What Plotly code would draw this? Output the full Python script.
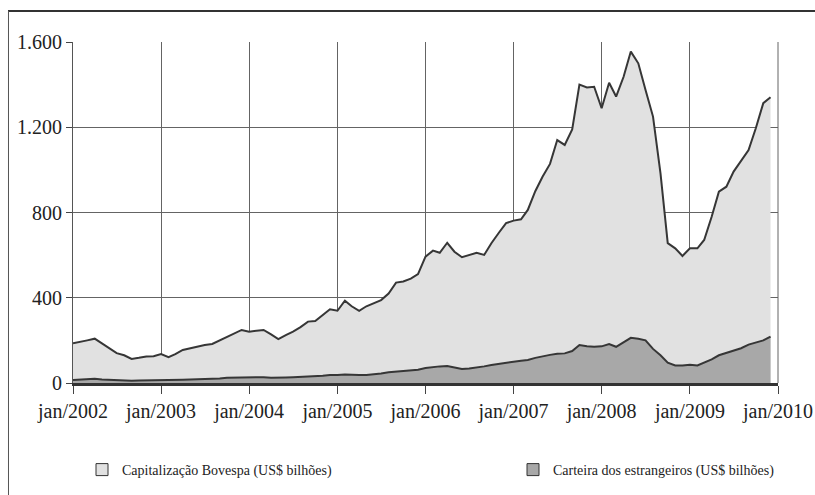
import plotly.graph_objects as go
import pandas as pd

months = pd.date_range("2002-01-01", periods=96, freq="MS")

bovespa = [186, 195, 200, 208, 185, 163, 140, 130, 113, 118, 124, 126,
           136, 121, 135, 155, 163, 172, 178, 183, 200, 215, 232, 249,
           241, 245, 249, 228, 206, 225, 241, 262, 288, 291, 318, 346,
           339, 386, 360, 339, 360, 375, 389, 420, 471, 476, 490, 511,
           593, 621, 611, 658, 616, 590, 600, 611, 601, 656, 705, 750,
           762, 768, 812, 900, 968, 1028, 1140, 1117, 1190, 1400, 1387, 1390,
           1289, 1409, 1344, 1437, 1555, 1500, 1375, 1250, 984, 656, 632, 596,
           632, 632, 671, 780, 898, 921, 992, 1045, 1093, 1195, 1313, 1341]

estrangeiros = [14, 15, 16, 20, 17, 15, 13, 12, 11, 12, 12, 13,
                14, 13, 14, 15, 16, 17, 18, 19, 21, 25, 26, 27,
                26, 27, 27, 25, 24, 26, 27, 28, 29, 30, 34, 38,
                37, 40, 38, 37, 38, 40, 45, 50, 53, 55, 58, 62,
                70, 75, 78, 80, 72, 66, 68, 72, 78, 84, 90, 96,
                100, 104, 108, 118, 126, 132, 137, 139, 150, 178, 172, 170,
                172, 183, 170, 190, 212, 208, 200, 160, 130, 95, 82, 82,
                86, 82, 95, 111, 130, 140, 150, 163, 180, 190, 200, 218]

series_names = ["Capitalização Bovespa (US$ bilhões)",
                "Carteira dos estrangeiros (US$ bilhões)"]

x_tick_dates = ["2002-01-01", "2003-01-01", "2004-01-01", "2005-01-01", "2006-01-01",
                "2007-01-01", "2008-01-01", "2009-01-01", "2010-01-01"]
x_tick_labels = ["jan/2002", "jan/2003", "jan/2004", "jan/2005", "jan/2006",
                 "jan/2007", "jan/2008", "jan/2009", "jan/2010"]
y_tick_vals = [0, 400, 800, 1200, 1600]
y_tick_labels = ["0", "400", "800", "1.200", "1.600"]

FONT = "Liberation Serif, Times New Roman, Times, serif"
LINE = "#363636"
GRID = "#646464"
FILLS = ["#e1e1e1", "#a8a8a8"]

W, H = 815, 495

fig = go.Figure()
for i, (vals, name) in enumerate(zip([bovespa, estrangeiros], series_names)):
    fig.add_trace(go.Scatter(
        x=months, y=vals, name=name, legendgroup=f"g{i}", showlegend=False,
        mode="lines", fill="tozeroy", fillcolor=FILLS[i],
        line=dict(color=LINE, width=2)))
    # legend entry with square swatch
    fig.add_trace(go.Scatter(
        x=[None], y=[None], name=name, legendgroup=f"g{i}",
        mode="markers", marker=dict(symbol="square", size=12, color=FILLS[i],
                                    line=dict(color="#333333", width=1)),
        legend="legend" if i == 0 else "legend2"))

fig.update_layout(
    width=W, height=H,
    margin=dict(l=73, r=37, t=42, b=112, autoexpand=False),
    paper_bgcolor="white", plot_bgcolor="white",
    font=dict(family=FONT, size=20, color="#222222"),
    showlegend=True,
    legend=dict(xref="container", yref="container", x=82 / W, y=1 - 470 / H,
                xanchor="left", yanchor="middle",
                font=dict(family=FONT, size=14, color="#222222"),
                bgcolor="rgba(0,0,0,0)", itemwidth=30),
    legend2=dict(xref="container", yref="container", x=513 / W, y=1 - 470 / H,
                 xanchor="left", yanchor="middle",
                 font=dict(family=FONT, size=14, color="#222222"),
                 bgcolor="rgba(0,0,0,0)", itemwidth=30),
    xaxis=dict(
        type="date", range=["2002-01-01", "2010-01-01"],
        tickmode="array", tickvals=x_tick_dates, ticktext=x_tick_labels,
        showgrid=True, gridcolor=GRID, gridwidth=1,
        showline=True, linecolor="#333333", linewidth=3,
        ticks="outside", ticklen=8, tickcolor="#444444",
        tickfont=dict(family=FONT, size=20, color="#222222"),
        zeroline=False, fixedrange=True, automargin=False),
    yaxis=dict(
        range=[0, 1600], tickmode="array", tickvals=y_tick_vals, ticktext=y_tick_labels,
        showgrid=True, gridcolor=GRID, gridwidth=1,
        showline=True, linecolor="#555555", linewidth=1,
        ticks="outside", ticklen=6, tickcolor="#444444",
        tickfont=dict(family=FONT, size=20, color="#222222"),
        zeroline=False, fixedrange=True, automargin=False),
)

# outer frame lines (top and left)
fig.add_shape(type="line", xref="paper", yref="paper",
              x0=-0.0922, x1=1.06, y0=1.0909, y1=1.0909,
              line=dict(color="#333333", width=2))
fig.add_shape(type="line", xref="paper", yref="paper",
              x0=-0.0915, x1=-0.0915, y0=1.0909, y1=-0.33,
              line=dict(color="#555555", width=1))
# right border of plot area
fig.add_shape(type="line", xref="paper", yref="paper",
              x0=1, x1=1, y0=0, y1=1, layer="below",
              line=dict(color=GRID, width=1))

fig.write_html(
    "out.html",
    config={"displayModeBar": False},
    post_script="document.body.style.margin='0';document.body.style.overflow='hidden';",
)
